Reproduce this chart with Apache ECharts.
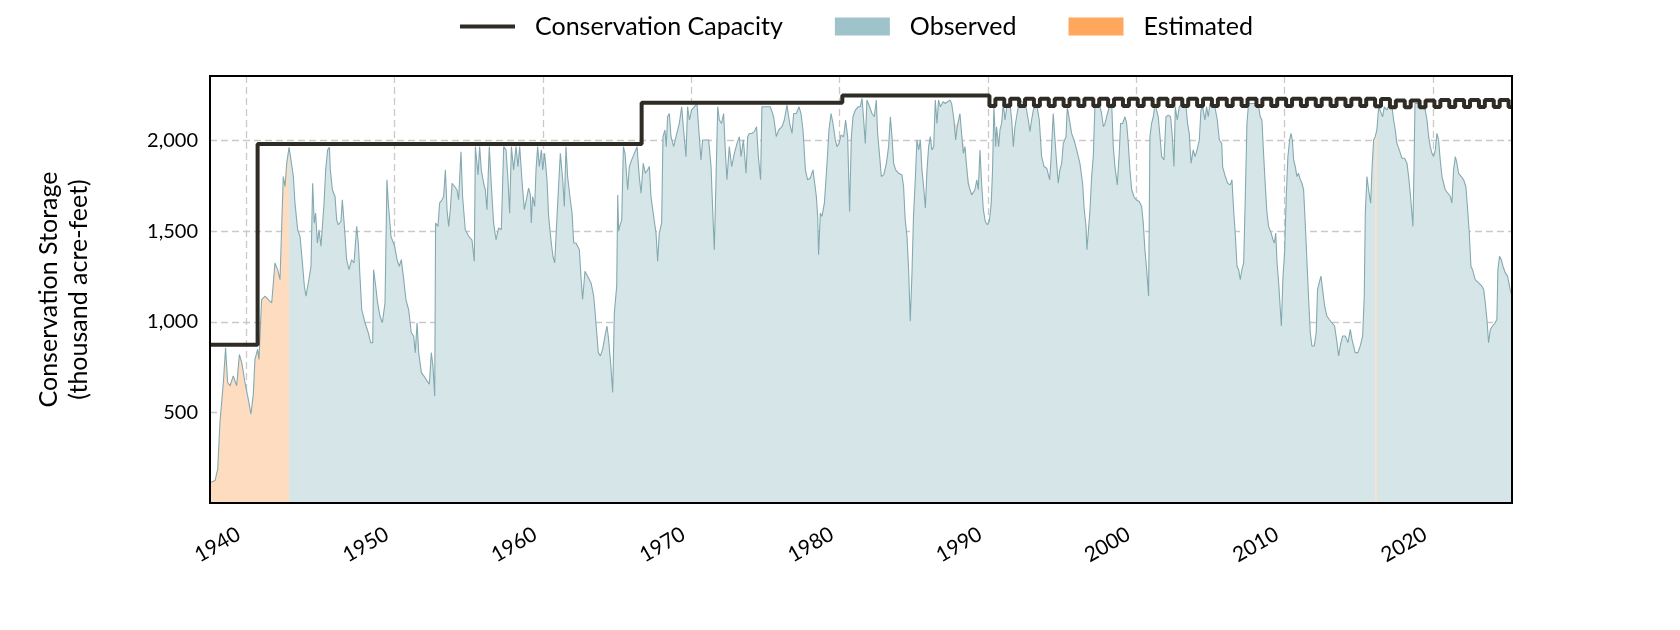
<!DOCTYPE html>
<html><head><meta charset="utf-8">
<script src="https://cdn.jsdelivr.net/npm/echarts@6/dist/echarts.min.js"></script>
<style>html,body{margin:0;padding:0;background:#fff}#c{width:1680px;height:630px}</style>
</head><body><div id="c"></div>
<script>
const xTicks = [1940, 1950, 1960, 1970, 1980, 1990, 2000, 2010, 2020];
const yTicks = [500, 1000, 1500, 2000];
const xStart = 1937.55, xEnd = 2025.33;
const observedStart = 1942.88;

const storage1937 = [[1937.55,112],[1937.62,115],[1937.89,124],[1938.07,188],[1938.22,445],[1938.45,665],[1938.6,857],[1938.74,665],[1938.9,647],[1939.12,702],[1939.35,647],[1939.53,820],[1939.69,775],[1939.91,665],[1940.13,573],[1940.31,491],[1940.47,601],[1940.58,793],[1940.76,848],[1940.85,793],[1941.03,1123],[1941.26,1142],[1941.48,1123],[1941.71,1105],[1941.93,1325],[1942.11,1288],[1942.27,1233],[1942.49,1802],[1942.61,1747],[1942.72,1875],[1942.88,1963],[1943.01,1894],[1943.17,1802],[1943.28,1655],[1943.46,1508],[1943.62,1472],[1943.8,1307],[1943.91,1197],[1944.02,1142],[1944.18,1215],[1944.36,1307],[1944.47,1765],[1944.58,1545],[1944.67,1600],[1944.79,1435],[1944.9,1508],[1945.03,1417],[1945.12,1417],[1945.24,1655],[1945.35,1839],[1945.48,1949],[1945.6,1963],[1945.66,1839],[1945.8,1729],[1945.98,1692],[1946.09,1563],[1946.2,1536],[1946.38,1554],[1946.47,1674],[1946.61,1527],[1946.76,1343],[1946.92,1288],[1947.1,1343],[1947.26,1325],[1947.44,1527],[1947.55,1435],[1947.66,1252],[1947.78,1068],[1948.0,995],[1948.22,940],[1948.38,885],[1948.52,885],[1948.58,1288],[1948.72,1197],[1948.85,1105],[1949.01,1032],[1949.17,995],[1949.35,1105],[1949.48,1784],[1949.57,1655],[1949.75,1472]];
const storage1950 = [[1950.0,1417],[1950.16,1343],[1950.31,1307],[1950.45,1343],[1950.61,1233],[1950.76,1123],[1950.94,1068],[1951.12,940],[1951.28,922],[1951.39,830],[1951.51,995],[1951.62,830],[1951.8,720],[1951.96,702],[1952.18,674],[1952.34,656],[1952.47,830],[1952.58,757],[1952.7,590],[1952.76,1545],[1952.92,1527],[1953.03,1655],[1953.19,1674],[1953.3,1692],[1953.42,1839],[1953.53,1619],[1953.64,1527],[1953.75,1619],[1953.87,1765],[1954.04,1747],[1954.2,1729],[1954.31,1674],[1954.47,1939],[1954.58,1692],[1954.76,1508],[1954.99,1472],[1955.21,1453],[1955.37,1334],[1955.44,1967],[1955.55,1967],[1955.62,1811],[1955.73,1967],[1955.84,1839],[1956.0,1765],[1956.11,1729],[1956.22,1619],[1956.38,1967],[1956.52,1747],[1956.67,1545],[1956.83,1453],[1957.01,1518],[1957.19,1508],[1957.35,1967],[1957.51,1949],[1957.64,1784],[1957.75,1600],[1957.87,1967],[1958.02,1839],[1958.18,1967],[1958.31,1857],[1958.43,1967],[1958.58,1784],[1958.74,1619],[1958.88,1674],[1959.03,1738],[1959.15,1701],[1959.21,1545],[1959.3,1692],[1959.44,1637],[1959.53,1839],[1959.64,1967],[1959.75,1857],[1959.89,1949],[1959.98,1839],[1960.11,1930],[1960.27,1784],[1960.38,1582],[1960.56,1435],[1960.67,1362],[1960.79,1325],[1960.9,1508],[1961.06,1765],[1961.17,1930],[1961.33,1784],[1961.44,1637],[1961.55,1967],[1961.66,1802],[1961.84,1674],[1961.96,1600],[1962.07,1435],[1962.22,1435]];
const storage1962 = [[1962.45,1398],[1962.56,1252],[1962.67,1123],[1962.83,1279],[1963.01,1252],[1963.24,1215],[1963.42,1142],[1963.57,995],[1963.73,830],[1963.87,812],[1964.02,848],[1964.18,922],[1964.31,977],[1964.4,922],[1964.54,793],[1964.7,610],[1964.81,1050],[1964.97,1197],[1965.04,1700],[1965.1,1500],[1965.17,1527],[1965.31,1563],[1965.42,1967],[1965.53,1930],[1965.71,1729],[1965.82,1857],[1965.98,1894],[1966.16,1930],[1966.34,1967],[1966.49,1802],[1966.61,1710],[1966.76,1875],[1966.9,1820],[1967.06,1839],[1967.17,1857],[1967.28,1692],[1967.46,1582],[1967.62,1490],[1967.73,1334],[1967.84,1490],[1968.0,1545],[1968.09,2022],[1968.22,2059],[1968.31,1967],[1968.4,2132],[1968.52,2150],[1968.63,2022],[1968.81,1967],[1968.97,2022],[1969.19,2095],[1969.35,2187],[1969.48,2059],[1969.64,1912],[1969.75,2187],[1969.87,2114],[1970.02,2169],[1970.2,2187],[1970.38,2205],[1970.54,2022],[1970.65,1894],[1970.76,2004],[1970.99,2004],[1971.17,2004],[1971.33,1857],[1971.44,1619],[1971.55,1398],[1971.67,1802],[1971.78,2187],[1971.89,2114],[1972.04,2095],[1972.18,2150],[1972.29,1949],[1972.4,1784],[1972.56,1967],[1972.72,1857],[1972.9,1930],[1973.08,1985],[1973.24,2022],[1973.35,1912],[1973.51,2004],[1973.69,1820],[1973.8,2022],[1973.91,2040],[1974.07,2040],[1974.25,2050],[1974.4,2077],[1974.52,1912],[1974.67,1784],[1974.76,2187],[1974.92,2187]];
const storage1975 = [[1975.1,2187],[1975.33,2187],[1975.55,2132],[1975.73,2022],[1975.89,2059],[1976.11,2077],[1976.27,2114],[1976.45,2196],[1976.63,2095],[1976.79,2040],[1976.9,2150],[1977.08,2150],[1977.26,2187],[1977.39,2150],[1977.53,2059],[1977.69,1839],[1977.84,1784],[1978.02,1793],[1978.2,1839],[1978.29,1784],[1978.43,1692],[1978.52,1582],[1978.58,1371],[1978.7,1600],[1978.81,1582],[1978.97,1655],[1979.15,1875],[1979.28,2059],[1979.42,2150],[1979.55,2095],[1979.71,2004],[1979.82,1967],[1979.96,1985],[1980.09,2031],[1980.27,2022],[1980.4,2114],[1980.54,2022],[1980.67,1609],[1980.79,2022],[1980.9,2132],[1981.06,2169],[1981.24,2187],[1981.39,2187],[1981.51,2233],[1981.62,2114],[1981.73,1985],[1981.84,2224],[1982.02,2187],[1982.18,2150],[1982.34,2132],[1982.47,2224],[1982.56,2040],[1982.7,1912],[1982.81,1802],[1982.97,1811],[1983.15,1875],[1983.3,1967],[1983.42,2132],[1983.53,2022],[1983.64,1875],[1983.78,1839],[1983.98,1820],[1984.2,1811],[1984.31,1747],[1984.42,1563],[1984.54,1472],[1984.65,1288],[1984.76,1004],[1984.87,1252],[1984.98,1582],[1985.1,1784],[1985.21,2004],[1985.33,1949],[1985.44,2004],[1985.55,1839],[1985.66,1747],[1985.78,1628],[1985.89,1839],[1986.0,1967],[1986.11,2022],[1986.22,1949],[1986.34,1967],[1986.45,2224],[1986.56,2095],[1986.67,2224],[1986.79,2187],[1986.97,2215],[1987.12,2205],[1987.28,2215]];
const storage1987 = [[1987.44,2224],[1987.55,2205],[1987.71,2114],[1987.82,2004],[1987.93,2077],[1988.11,2150],[1988.22,2040],[1988.34,1930],[1988.45,1967],[1988.56,1857],[1988.67,1765],[1988.79,1729],[1988.9,1701],[1989.01,1692],[1989.12,1729],[1989.25,1784],[1989.35,1729],[1989.46,1949],[1989.57,1765],[1989.69,1619],[1989.82,1554],[1989.96,1536],[1990.09,1554],[1990.22,1655],[1990.31,1839],[1990.4,2187],[1990.52,1967],[1990.58,2077],[1990.72,1967],[1990.81,2059],[1990.92,2095],[1991.03,2205],[1991.15,2114],[1991.3,2205],[1991.48,2205],[1991.6,2114],[1991.71,1967],[1991.82,2077],[1991.93,2132],[1992.04,2187],[1992.2,2224],[1992.38,2205],[1992.56,2187],[1992.72,2114],[1992.83,2050],[1992.94,2114],[1993.06,2169],[1993.24,2205],[1993.35,2169],[1993.46,2114],[1993.62,1912],[1993.78,1857],[1993.96,1848],[1994.09,1857],[1994.16,1784],[1994.25,1894],[1994.4,2150],[1994.49,2040],[1994.63,1875],[1994.74,1765],[1994.85,1839],[1994.97,1875],[1995.08,1985],[1995.26,2022],[1995.35,2187],[1995.48,2187],[1995.64,2040],[1995.8,2004],[1995.98,1949],[1996.2,1875],[1996.38,1765],[1996.49,1619],[1996.61,1527],[1996.67,1398],[1996.76,1490],[1996.88,1619],[1996.99,1802],[1997.1,1912],[1997.21,2187],[1997.37,2205],[1997.55,2187],[1997.66,2150],[1997.78,2077],[1997.89,2095],[1998.0,2132],[1998.18,2187],[1998.34,2205],[1998.45,1967],[1998.56,1857],[1998.72,1756],[1998.85,1930],[1998.94,2095],[1999.08,2095],[1999.24,2132],[1999.35,2095],[1999.46,1985],[1999.57,1839],[1999.69,1729],[1999.84,1692],[1999.98,1674]];
const storage2000 = [[2000.2,1664],[2000.36,1637],[2000.47,1545],[2000.58,1398],[2000.7,1288],[2000.83,1142],[2000.92,2022],[2001.03,2095],[2001.15,2132],[2001.26,2205],[2001.37,2205],[2001.48,2132],[2001.6,2022],[2001.71,1912],[2001.87,1894],[2002.0,2132],[2002.16,2141],[2002.31,2132],[2002.43,2022],[2002.54,1857],[2002.63,2187],[2002.76,2114],[2002.9,2187],[2003.06,2205],[2003.21,2205],[2003.35,2187],[2003.46,2095],[2003.57,2040],[2003.69,1875],[2003.84,1949],[2003.96,1912],[2004.07,1940],[2004.25,2004],[2004.36,2169],[2004.47,2187],[2004.63,2114],[2004.74,2187],[2004.85,2132],[2004.97,2205],[2005.15,2205],[2005.3,2187],[2005.46,2114],[2005.6,2004],[2005.76,1985],[2005.82,1857],[2006.0,1802],[2006.16,1765],[2006.33,1756],[2006.45,1784],[2006.56,1619],[2006.67,1490],[2006.79,1307],[2006.9,1288],[2007.01,1233],[2007.12,1288],[2007.24,1325],[2007.35,1692],[2007.46,2095],[2007.57,2205],[2007.73,2205],[2007.91,2205],[2008.09,2205],[2008.25,2187],[2008.36,2132],[2008.47,2114],[2008.58,1930],[2008.7,1747],[2008.81,1600],[2008.92,1527],[2009.09,1490],[2009.22,1453],[2009.31,1435],[2009.4,1490],[2009.49,1325],[2009.6,1215],[2009.71,1068],[2009.78,977],[2009.89,1252],[2010.0,1380],[2010.11,1692],[2010.22,1912],[2010.34,2004],[2010.43,2040],[2010.52,2004],[2010.61,1894],[2010.72,1857],[2010.83,1802],[2010.94,1820],[2011.06,1784],[2011.17,1765],[2011.28,1729],[2011.39,1545],[2011.51,1325],[2011.62,1123],[2011.73,940],[2011.84,867],[2012.0,867],[2012.13,940],[2012.22,1178],[2012.33,1215],[2012.45,1252]];
const storage2012 = [[2012.56,1178],[2012.7,1087],[2012.85,1032],[2013.01,1013],[2013.19,995],[2013.37,977],[2013.53,885],[2013.64,812],[2013.75,867],[2013.91,922],[2014.09,922],[2014.27,885],[2014.43,958],[2014.54,903],[2014.65,867],[2014.76,830],[2014.94,830],[2015.1,867],[2015.26,922],[2015.37,1142],[2015.44,1600],[2015.55,1802],[2015.66,1729],[2015.8,1655],[2015.89,1839],[2016.0,2004],[2016.11,2022],[2016.16,null],[2016.22,2059],[2016.34,2187],[2016.45,2187],[2016.61,2132],[2016.72,2187],[2016.9,2169],[2017.08,2205],[2017.24,2187],[2017.35,2114],[2017.46,2059],[2017.57,1985],[2017.73,1949],[2017.91,1903],[2018.09,1903],[2018.25,1875],[2018.36,1802],[2018.47,1710],[2018.58,1600],[2018.65,1527],[2018.72,1839],[2018.79,2205],[2018.92,2205],[2019.08,2205],[2019.26,2187],[2019.44,2187],[2019.6,2114],[2019.71,2022],[2019.82,1967],[2019.93,1930],[2020.04,1912],[2020.16,1949],[2020.27,2040],[2020.38,2004],[2020.49,1894],[2020.61,1802],[2020.72,1765],[2020.83,1729],[2021.01,1710],[2021.17,1692],[2021.28,1655],[2021.39,1839],[2021.51,1912],[2021.62,1875],[2021.73,1820],[2021.91,1802],[2022.07,1784],[2022.22,1747],[2022.34,1619],[2022.45,1490],[2022.56,1307],[2022.67,1288],[2022.85,1233],[2023.08,1215],[2023.3,1197],[2023.42,1178],[2023.53,1105],[2023.64,1013],[2023.75,885],[2023.87,958],[2024.02,977],[2024.2,995],[2024.31,1013],[2024.38,1288],[2024.49,1362],[2024.61,1343],[2024.72,1307],[2024.88,1270],[2025.03,1252],[2025.21,1178],[2025.33,1142]];

const estimated1988 = [[1987.75,2100],[1987.85,2085],[1988.0,2110],[1988.2,2060],[1988.35,1985],[1988.55,1880],[1988.75,1740]];
const estimated2016 = [[2016.11,2022],[2016.22,2059]];

// Conservation capacity: fixed levels, then a seasonal pool from 1990
const capacitySteps = [[1937.55,873],[1940.76,1982],[1966.65,2209],[1980.18,2250]];
const seasonYears = [1990,1991,1992,1993,1994,1995,1996,1997,1998,1999,2000,2001,2002,2003,2004,2005,2006,2007,2008,2009,2010,2011,2012,2013,2014,2015,2016,2017,2018,2019,2020,2021,2022,2023,2024,2025];
const seasonLow  = [2192,2192,2192,2192,2192,2192,2192,2192,2192,2192,2192,2192,2192,2192,2192,2192,2192,2192,2192,2192,2192,2192,2192,2192,2192,2192,2190,2184,2184,2184,2186,2186,2186,2186,2186,2186];
const seasonHigh = [2232,2232,2232,2232,2232,2232,2232,2232,2232,2232,2232,2232,2232,2232,2232,2232,2232,2232,2232,2232,2232,2232,2232,2232,2232,2232,2230,2222,2222,2222,2224,2224,2224,2224,2224,2224];
const lowStartFrac = 0.1, highStartFrac = 0.5;

const storage = [].concat(storage1937, storage1950, storage1962, storage1975, storage1987, storage2000, storage2012);
const observedData = storage.filter(p => p[0] >= observedStart);
const estData = storage.filter(p => p[0] <= observedStart)
  .concat([[1965, null]], estimated1988, [[2000, null]], estimated2016);

const capData = capacitySteps.slice();
seasonYears.forEach((y, i) => {
  if (y + lowStartFrac < xEnd) capData.push([y + lowStartFrac, seasonLow[i]]);
  if (y + highStartFrac < xEnd) capData.push([y + highStartFrac, seasonHigh[i]]);
});
capData.push([xEnd, capData[capData.length - 1][1]]);

const FONT = 'Lato';
const chart = echarts.init(document.getElementById('c'), null, {renderer: 'canvas'});
chart.setOption({
  animation: false,
  backgroundColor: '#fff',
  textStyle: {fontFamily: FONT},
  legend: {
    top: 9, left: 455, itemWidth: 55, itemHeight: 18, itemGap: 52,
    textStyle: {fontSize: 25, color: '#000', fontFamily: FONT, padding: [0, 0, 0, 15]},
    data: [
      {name: 'Conservation Capacity', icon: 'path://M0,0 H56 V4 H0 Z', itemStyle: {color: '#2f2b25'}},
      {name: 'Observed', icon: 'rect', itemStyle: {color: '#9fc3ca'}},
      {name: 'Estimated', icon: 'rect', itemStyle: {color: '#ffa75d'}}
    ]
  },
  grid: {left: 210, right: 168, top: 76, bottom: 127, show: true, z: 10,
         borderColor: '#000', borderWidth: 2, backgroundColor: 'transparent'},
  xAxis: {
    type: 'value', min: xStart, max: xEnd,
    axisLine: {show: false},
    axisTick: {show: false, customValues: xTicks},
    axisLabel: {customValues: xTicks, rotate: 30, fontSize: 21, color: '#000', margin: 25, fontFamily: FONT,
                padding: [0, 9, 0, 0], formatter: v => String(v)},
    splitLine: {show: true, lineStyle: {color: '#c9c9c9', width: 1.3, type: [7, 4]}}
  },
  yAxis: {
    type: 'value', min: 0, max: 2357,
    axisLine: {show: false},
    axisTick: {show: false, customValues: yTicks},
    axisLabel: {customValues: yTicks, fontSize: 20, color: '#000', margin: 12, fontFamily: FONT,
                formatter: v => Number(v).toLocaleString('en-US')},
    splitLine: {show: true, lineStyle: {color: '#c9c9c9', width: 1.3, type: [7, 4]}},
    name: 'Conservation Storage\n(thousand acre-feet)', nameLocation: 'middle', nameGap: 116,
    nameTextStyle: {fontSize: 25, lineHeight: 30, color: '#000', fontFamily: FONT}
  },
  series: [
    {name: 'Estimated', type: 'line', data: estData, showSymbol: false, symbol: 'none',
     connectNulls: false, lineStyle: {width: 0}, itemStyle: {color: '#ffa75d'},
     areaStyle: {color: '#fddcc0', opacity: 1}, z: 1, silent: true},
    {name: 'Observed', type: 'line', data: observedData, showSymbol: false, symbol: 'none',
     connectNulls: false, lineStyle: {width: 0}, itemStyle: {color: '#9fc3ca'},
     areaStyle: {color: '#d6e6e8', opacity: 1}, z: 2, silent: true},
    {name: 'Storage', type: 'line', data: storage, showSymbol: false, symbol: 'none',
     connectNulls: true, lineStyle: {width: 1.1, color: '#84a9b1'}, itemStyle: {color: '#84a9b1'}, z: 3, silent: true},
    {name: 'Conservation Capacity', type: 'line', data: capData, step: 'end', showSymbol: false, symbol: 'none',
     lineStyle: {width: 4, color: '#2f2b25'}, itemStyle: {color: '#2f2b25'}, z: 4, silent: true}
  ]
});
</script></body></html>
